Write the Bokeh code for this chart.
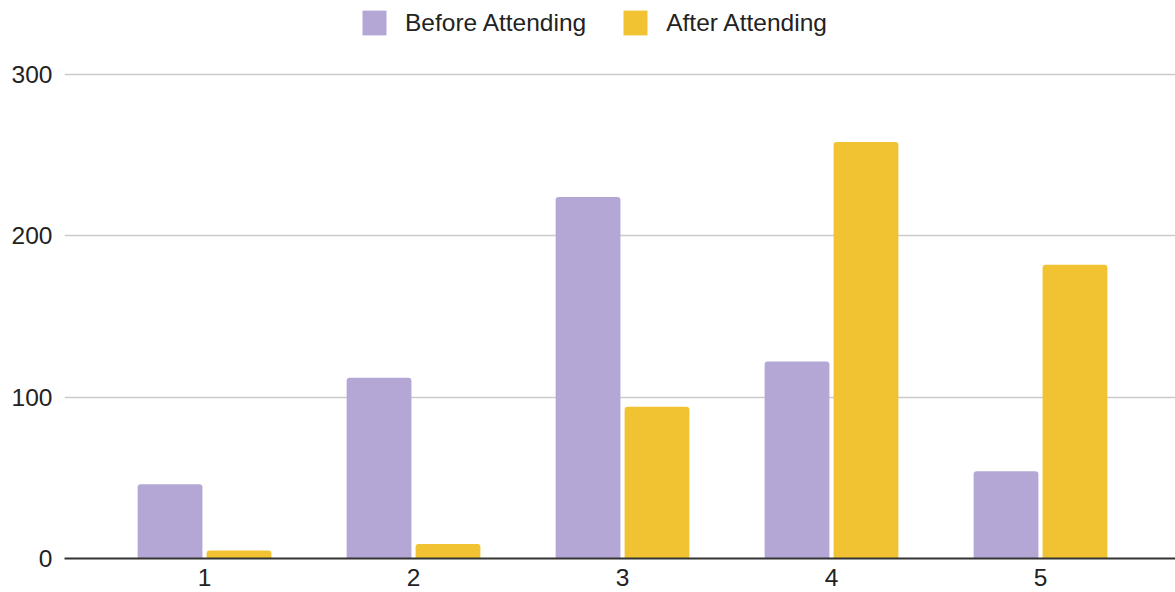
from bokeh.plotting import figure
from bokeh.models import Range1d, Legend, LegendItem, FixedTicker
from bokeh.transform import dodge
from bokeh.embed import file_html
from bokeh.resources import INLINE

categories = [1, 2, 3, 4, 5]
before_attending = [46, 112, 224, 122, 54]
after_attending = [5, 9, 94, 258, 182]
y_ticks = [0, 100, 200, 300]

PURPLE = "#b4a7d6"
YELLOW = "#f1c232"
FONT = "Liberation Sans"
FS = "24.5px"

p = figure(width=1175, height=592, output_backend="svg", toolbar_location=None,
           x_range=Range1d(0.33, 5.646), y_range=Range1d(0, 345.7),
           min_border_left=64, min_border_right=0, min_border_top=0, min_border_bottom=34)
p.outline_line_color = None
p.background_fill_color = "white"

src = dict(x=categories, before=before_attending, after=after_attending)
r1 = p.vbar(x=dodge("x", -0.165), top="before", width=0.31, source=src,
            fill_color=PURPLE, line_color=None, border_radius=(3, 3, 0, 0))
r2 = p.vbar(x=dodge("x", 0.165), top="after", width=0.31, source=src,
            fill_color=YELLOW, line_color=None, border_radius=(3, 3, 0, 0))

p.xaxis.ticker = FixedTicker(ticks=categories)
p.yaxis.ticker = FixedTicker(ticks=y_ticks)
p.xgrid.grid_line_color = None
p.ygrid.grid_line_color = "#cccccc"
p.ygrid.grid_line_width = 1.5

for ax in (p.xaxis[0], p.yaxis[0]):
    ax.major_label_text_font = FONT
    ax.major_label_text_font_size = FS
    ax.major_label_text_color = "#222222"
    ax.major_tick_line_color = None
    ax.minor_tick_line_color = None
    ax.major_tick_out = 0
    ax.major_tick_in = 0
p.yaxis.axis_line_color = None
p.yaxis.major_label_standoff = 12
p.xaxis.axis_line_color = "#333333"
p.xaxis.axis_line_width = 2
p.xaxis.major_label_standoff = 10

legend = Legend(items=[LegendItem(label="Before Attending", renderers=[r1]),
                       LegendItem(label="After Attending", renderers=[r2])],
                orientation="horizontal", location=(295, 519.7),
                label_text_font=FONT, label_text_font_size=FS, label_text_color="#222222",
                glyph_width=30, glyph_height=31, label_height=31, label_standoff=16,
                spacing=34, padding=7, margin=0,
                border_line_color=None, background_fill_alpha=0)
p.add_layout(legend, "center")

open("out.html", "w").write(file_html(p, INLINE))
